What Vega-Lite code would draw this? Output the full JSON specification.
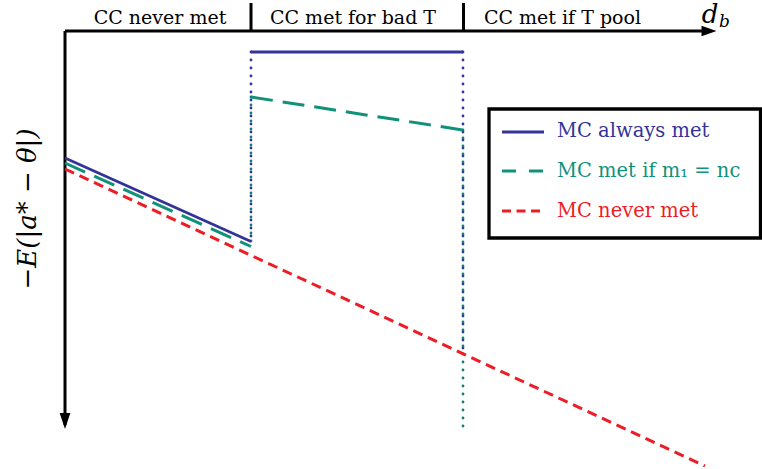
{
  "$schema": "https://vega.github.io/schema/vega-lite/v6.json",
  "width": 762,
  "height": 469,
  "autosize": {"type": "none"},
  "padding": 0,
  "background": "white",
  "config": {"view": {"stroke": null}},
  "datasets": {
    "segs": [
      {"s": "axis", "x": 0, "y": 0, "x2": 641, "y2": 0},
      {"s": "axis", "x": 0, "y": 0, "x2": 0, "y2": -394},
      {"s": "tick", "x": 186, "y": 0, "x2": 186, "y2": 28},
      {"s": "tick", "x": 398.5, "y": 0, "x2": 398.5, "y2": 28},
      {"s": "bdot", "x": 186, "y": -21, "x2": 186, "y2": -210},
      {"s": "bdot", "x": 398, "y": -21, "x2": 398, "y2": -323},
      {"s": "tdot", "x": 186, "y": -66, "x2": 186, "y2": -215},
      {"s": "tdot", "x": 398, "y": -99, "x2": 398, "y2": -399},
      {"s": "red", "x": 0, "y": -138, "x2": 640, "y2": -435},
      {"s": "teal", "x": 0, "y": -132, "x2": 186, "y2": -215.5},
      {"s": "teal", "x": 186, "y": -66, "x2": 398, "y2": -99},
      {"s": "blue", "x": 0, "y": -127, "x2": 186, "y2": -210.5},
      {"s": "blue", "x": 186, "y": -21, "x2": 398, "y2": -21},
      {"s": "blueL", "x": 437, "y": -101, "x2": 479, "y2": -101},
      {"s": "tealL", "x": 437, "y": -140, "x2": 479, "y2": -140},
      {"s": "redL", "x": 437, "y": -180, "x2": 479, "y2": -180}
    ],
    "box": [{"x": 424, "y": -78, "x2": 695.5, "y2": -207}],
    "arrows": [
      {"dir": "right", "x": 644, "y": 0},
      {"dir": "down", "x": 0, "y": -390}
    ],
    "texts": [
      {"g": "head", "t": "CC never met", "x": 95, "y": 7},
      {"g": "head", "t": "CC met for bad T", "x": 288, "y": 7},
      {"g": "head", "t": "CC met if T pool", "x": 497.5, "y": 7},
      {"g": "leg1", "t": "MC always met", "x": 492, "y": -100},
      {"g": "leg2", "t": "MC met if m₁ = nc", "x": 492, "y": -140},
      {"g": "leg3", "t": "MC never met", "x": 492, "y": -180},
      {"g": "ylab", "t": "−E(|a* − θ|)", "x": -37, "y": -178},
      {"g": "d", "t": "d", "x": 645, "y": 8},
      {"g": "b", "t": "b", "x": 659.5, "y": 4}
    ]
  },
  "encoding": {
    "x": {"field": "x", "type": "quantitative", "scale": {"domain": [-65, 697], "nice": false, "zero": false}, "axis": null},
    "y": {"field": "y", "type": "quantitative", "scale": {"domain": [-438, 31], "nice": false, "zero": false}, "axis": null}
  },
  "layer": [
    {
      "data": {"name": "box"},
      "mark": {"type": "rect", "fill": "white", "stroke": "black", "strokeWidth": 3.3},
      "encoding": {"x2": {"field": "x2"}, "y2": {"field": "y2"}}
    },
    {
      "data": {"name": "segs"},
      "transform": [{"filter": "datum.s == 'axis' || datum.s == 'tick'"}],
      "mark": {"type": "rule", "color": "black", "strokeWidth": 3},
      "encoding": {"x2": {"field": "x2"}, "y2": {"field": "y2"}}
    },
    {
      "data": {"name": "segs"},
      "transform": [{"filter": "datum.s == 'bdot'"}],
      "mark": {"type": "rule", "color": "#33339a", "strokeWidth": 2.8, "strokeCap": "round", "strokeDash": [0.1, 7.9]},
      "encoding": {"x2": {"field": "x2"}, "y2": {"field": "y2"}}
    },
    {
      "data": {"name": "segs"},
      "transform": [{"filter": "datum.s == 'tdot'"}],
      "mark": {"type": "rule", "color": "#127f77", "strokeWidth": 2.8, "strokeCap": "round", "strokeDash": [0.1, 7.9]},
      "encoding": {"x2": {"field": "x2"}, "y2": {"field": "y2"}}
    },
    {
      "data": {"name": "segs"},
      "transform": [{"filter": "datum.s == 'red'"}],
      "mark": {"type": "rule", "color": "#ee1c25", "strokeWidth": 3, "strokeDash": [10, 6]},
      "encoding": {"x2": {"field": "x2"}, "y2": {"field": "y2"}}
    },
    {
      "data": {"name": "segs"},
      "transform": [{"filter": "datum.s == 'redL'"}],
      "mark": {"type": "rule", "color": "#ee1c25", "strokeWidth": 3, "strokeDash": [9, 5.5]},
      "encoding": {"x2": {"field": "x2"}, "y2": {"field": "y2"}}
    },
    {
      "data": {"name": "segs"},
      "transform": [{"filter": "datum.s == 'teal'"}],
      "mark": {"type": "rule", "color": "#0f917a", "strokeWidth": 3, "strokeDash": [22, 10]},
      "encoding": {"x2": {"field": "x2"}, "y2": {"field": "y2"}}
    },
    {
      "data": {"name": "segs"},
      "transform": [{"filter": "datum.s == 'tealL'"}],
      "mark": {"type": "rule", "color": "#0f917a", "strokeWidth": 3, "strokeDash": [14, 13]},
      "encoding": {"x2": {"field": "x2"}, "y2": {"field": "y2"}}
    },
    {
      "data": {"name": "segs"},
      "transform": [{"filter": "datum.s == 'blue' || datum.s == 'blueL'"}],
      "mark": {"type": "rule", "color": "#333399", "strokeWidth": 2.8},
      "encoding": {"x2": {"field": "x2"}, "y2": {"field": "y2"}}
    },
    {
      "data": {"name": "arrows"},
      "transform": [{"filter": "datum.dir == 'right'"}],
      "mark": {"type": "point", "shape": "M-1,-0.7L1,0L-1,0.7Z", "size": 225, "filled": true, "color": "black", "opacity": 1}
    },
    {
      "data": {"name": "arrows"},
      "transform": [{"filter": "datum.dir == 'down'"}],
      "mark": {"type": "point", "shape": "M-0.67,-1L0.67,-1L0,1Z", "size": 256, "filled": true, "color": "black", "opacity": 1}
    },
    {
      "data": {"name": "texts"},
      "transform": [{"filter": "datum.g == 'head'"}],
      "mark": {"type": "text", "font": "DejaVu Serif", "fontSize": 19, "align": "center", "baseline": "alphabetic", "color": "black"},
      "encoding": {"text": {"field": "t"}}
    },
    {
      "data": {"name": "texts"},
      "transform": [{"filter": "datum.g == 'leg1'"}],
      "mark": {"type": "text", "font": "DejaVu Serif", "fontSize": 19.5, "align": "left", "baseline": "middle", "color": "#333399"},
      "encoding": {"text": {"field": "t"}}
    },
    {
      "data": {"name": "texts"},
      "transform": [{"filter": "datum.g == 'leg2'"}],
      "mark": {"type": "text", "font": "DejaVu Serif", "fontSize": 19.5, "align": "left", "baseline": "middle", "color": "#0f917a"},
      "encoding": {"text": {"field": "t"}}
    },
    {
      "data": {"name": "texts"},
      "transform": [{"filter": "datum.g == 'leg3'"}],
      "mark": {"type": "text", "font": "DejaVu Serif", "fontSize": 19.5, "align": "left", "baseline": "middle", "color": "#ee1c25"},
      "encoding": {"text": {"field": "t"}}
    },
    {
      "data": {"name": "texts"},
      "transform": [{"filter": "datum.g == 'ylab'"}],
      "mark": {"type": "text", "font": "DejaVu Serif", "fontSize": 26, "fontStyle": "italic", "align": "center", "baseline": "middle", "angle": 270, "color": "black"},
      "encoding": {"text": {"field": "t"}}
    },
    {
      "data": {"name": "texts"},
      "transform": [{"filter": "datum.g == 'd'"}],
      "mark": {"type": "text", "font": "DejaVu Serif", "fontSize": 26, "fontStyle": "italic", "align": "center", "baseline": "alphabetic", "color": "black"},
      "encoding": {"text": {"field": "t"}}
    },
    {
      "data": {"name": "texts"},
      "transform": [{"filter": "datum.g == 'b'"}],
      "mark": {"type": "text", "font": "DejaVu Serif", "fontSize": 17, "fontStyle": "italic", "align": "center", "baseline": "alphabetic", "color": "black"},
      "encoding": {"text": {"field": "t"}}
    }
  ]
}
